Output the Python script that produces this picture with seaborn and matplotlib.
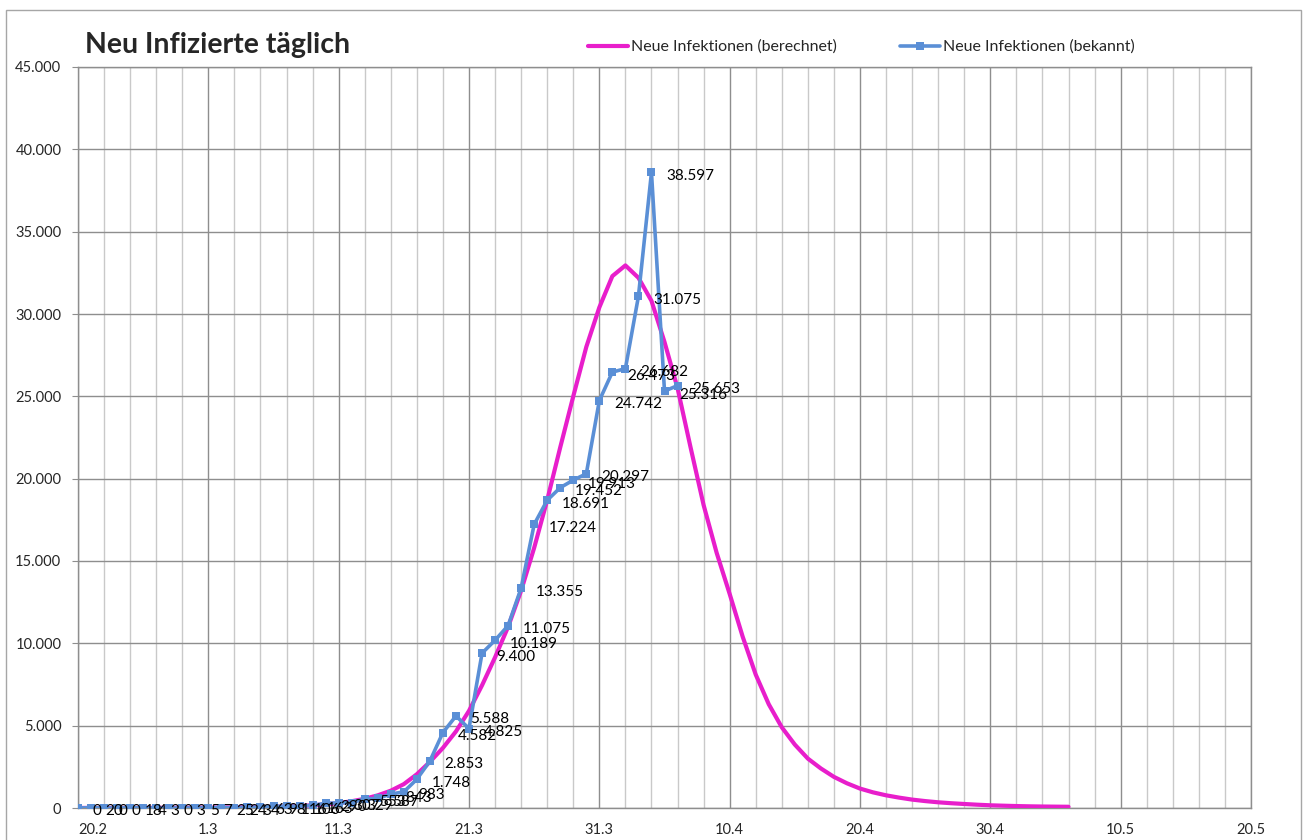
import pandas as pd
import matplotlib
matplotlib.use("Agg")
import matplotlib.pyplot as plt
import matplotlib.ticker as mticker
from matplotlib.patches import Rectangle
import seaborn as sns

# daily values starting 20.2.2020
start_date = "2020-02-20"
end_date = "2020-05-20"

# Neue Infektionen (bekannt) - reported, one value per day
known_values = [0, 20, 0, 0, 18, 4, 3, 0, 3, 5, 7, 25, 24, 34, 63, 98, 116, 106,
                163, 290, 307, 329, 553, 587, 843, 983, 1748, 2853, 4582, 5588,
                4825, 9400, 10189, 11075, 13355, 17224, 18691, 19452, 19913,
                20297, 24742, 26473, 26682, 31075, 38597, 25316, 25653]

# Neue Infektionen (berechnet) - model curve per day
calc_values = [4, 5, 6, 7, 8, 9, 11, 13, 16, 19, 23, 29, 36, 45, 57, 73, 95, 125,
               165, 220, 300, 410, 560, 770, 1050, 1450, 2050, 2800, 3650, 4650,
               5900, 7450, 9150, 11000, 13200, 15800, 18700, 21900, 25000, 28000,
               30400, 32300, 32950, 32200, 30800, 28300, 25500, 21900, 18400,
               15500, 13000, 10400, 8100, 6300, 4900, 3850, 3000, 2400, 1890, 1500,
               1180, 950, 770, 630, 510, 420, 346, 290, 243, 200, 164, 140, 118,
               102, 90, 82, 75]

tick_labels = ["20.2", "1.3", "11.3", "21.3", "31.3", "10.4", "20.4", "30.4", "10.5", "20.5"]
y_ticks = [0, 5000, 10000, 15000, 20000, 25000, 30000, 35000, 40000, 45000]

known_dates = pd.date_range(start_date, periods=len(known_values))
calc_dates = pd.date_range(start_date, periods=len(calc_values))

pink = "#E81ECB"
blue = "#5A8FD6"
grid_dark = "#8E8E8E"
grid_light = "#C9C9C9"


def de_num(v, pos=None):
    return f"{int(v):,}".replace(",", ".")


sns.set_style("white")
plt.rcParams['font.family'] = ['Lato', 'DejaVu Sans']

fig = plt.figure(figsize=(13.06, 8.40), dpi=100)
ax = fig.add_axes([78 / 1306, 32 / 840, 1173 / 1306, 741 / 840])

sns.lineplot(x=calc_dates, y=calc_values, ax=ax, color=pink, linewidth=3.0,
             label="Neue Infektionen (berechnet)", zorder=3)
sns.lineplot(x=known_dates, y=known_values, ax=ax, color=blue, linewidth=2.6,
             marker="s", markersize=5.5, markeredgewidth=0,
             label="Neue Infektionen (bekannt)", zorder=4)

# data labels right of each point
for d, v in zip(known_dates, known_values):
    ax.annotate(de_num(v), (d, v), xytext=(10.5, -2.5), textcoords="offset points",
                ha="left", va="center", fontsize=11, color="black", zorder=5)

ax.set_xlim(pd.Timestamp(start_date), pd.Timestamp(end_date))
ax.set_ylim(0, 45000)
ax.set_xlabel("")
ax.set_ylabel("")

ax.set_xticks(pd.date_range(start_date, end_date, freq="10D"))
ax.set_xticklabels(tick_labels)
ax.set_xticks(pd.date_range(start_date, end_date, freq="2D"), minor=True)
ax.set_yticks(y_ticks)
ax.yaxis.set_major_formatter(mticker.FuncFormatter(de_num))

ax.set_axisbelow(True)
ax.grid(which="minor", axis="x", color=grid_light, linewidth=1)
ax.grid(which="major", axis="x", color=grid_dark, linewidth=1)
ax.grid(which="major", axis="y", color=grid_dark, linewidth=1)

ax.tick_params(axis="x", which="minor", length=0)
ax.tick_params(axis="x", which="major", length=4, color=grid_dark, pad=7,
               labelsize=10.5)
ax.tick_params(axis="y", which="major", length=4, color=grid_dark, pad=8,
               labelsize=10.5, left=True)
ax.xaxis.get_majorticklabels()[0].set_horizontalalignment("left")

for sp in ax.spines.values():
    sp.set_color(grid_dark)
    sp.set_linewidth(1)

ax.legend(loc="center left", bbox_to_anchor=(0.435, 1.027), ncol=2, frameon=False,
          fontsize=11.5, handlelength=2.5, handletextpad=0.15, columnspacing=4.0,
          borderpad=0, borderaxespad=0)

fig.text(85 / 1306, 1 - 45 / 840, "Neu Infizierte täglich", fontsize=20.5,
         fontweight="bold", va="center", ha="left")

# chart border
fig.patches.append(Rectangle((6 / 1306, -0.02), 1295 / 1306, 830 / 840 + 0.02,
                             transform=fig.transFigure, fill=False,
                             edgecolor="#A6A6A6", linewidth=1))

fig.savefig("out.png", dpi=100)
